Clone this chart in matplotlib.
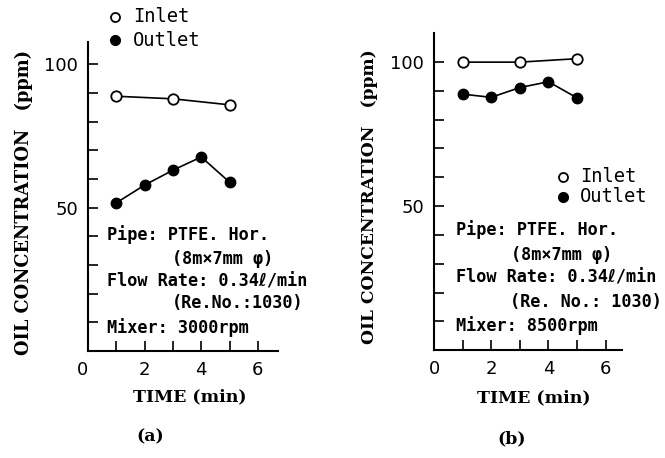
import matplotlib
matplotlib.use("Agg")
import matplotlib.pyplot as plt
from matplotlib.lines import Line2D
from matplotlib.ticker import FixedLocator

# ---- data ----
time_a_inlet = [1, 3, 5]
inlet_a = [88.9, 88.0, 85.9]
time_a_outlet = [1, 2, 3, 4, 5]
outlet_a = [51.7, 57.9, 63.1, 67.7, 58.9]

time_b_inlet = [1, 3, 5]
inlet_b = [99.9, 99.9, 101.1]
time_b_outlet = [1, 2, 3, 4, 5]
outlet_b = [88.8, 87.7, 91.1, 93.1, 87.5]

y_major = [50, 100]
y_minor = [10, 20, 30, 40, 60, 70, 80, 90]
x_major = [0, 2, 4, 6]
x_minor = [1, 3, 5]

legend_labels = ["Inlet", "Outlet"]
notes_a = ["Pipe: PTFE. Hor.", "(8m×7mm φ)", "Flow Rate: 0.34ℓ/min", "(Re.No.:1030)", "Mixer: 3000rpm"]
notes_b = ["Pipe: PTFE. Hor.", "(8m×7mm φ)", "Flow Rate: 0.34ℓ/min", "(Re. No.: 1030)", "Mixer: 8500rpm"]
ylabel_text = "OIL CONCENTRATION   (ppm)"
xlabel_text = "TIME (min)"
captions = ["(a)", "(b)"]

MONO = ["DejaVu Sans Mono", "DejaVu Sans", "Noto Sans CJK JP"]

W, H = 665, 458
fig = plt.figure(figsize=(W / 100, H / 100), dpi=100)
fig.patch.set_facecolor("white")


def fx(x):
    return x / W


def fy(y):
    return 1 - y / H


def make_axes(left, right, top, bottom, xmax, ymax):
    ax = fig.add_axes([fx(left), fy(bottom), fx(right - left), (bottom - top) / H])
    ax.set_xlim(0, xmax)
    ax.set_ylim(0, ymax)
    for s in ["top", "right"]:
        ax.spines[s].set_visible(False)
    for s in ["left", "bottom"]:
        ax.spines[s].set_linewidth(1.5)
    ax.xaxis.set_major_locator(FixedLocator(x_major))
    ax.xaxis.set_minor_locator(FixedLocator(x_minor))
    ax.yaxis.set_major_locator(FixedLocator(y_major))
    ax.yaxis.set_minor_locator(FixedLocator(y_minor))
    ax.tick_params(which="both", direction="in", length=7, width=1.2, labelsize=13)
    ax.tick_params(axis="y", pad=7)
    ax.tick_params(axis="x", pad=7)
    ax.set_facecolor("none")
    return ax


def draw_series(ax, tin, yin, tout, yout):
    ax.plot(tin, yin, color="black", lw=1.2, marker="o", ms=7.5,
            mfc="white", mec="black", mew=1.3, clip_on=False, zorder=3)
    ax.plot(tout, yout, color="black", lw=1.2, marker="o", ms=7.5,
            mfc="black", mec="black", clip_on=False, zorder=3)


def draw_legend(mx, my_in, tx, my_out):
    fig.add_artist(Line2D([fx(mx)], [fy(my_in)], marker="o", ms=6.5, mfc="white",
                          mec="black", mew=1.3, ls="none"))
    fig.add_artist(Line2D([fx(mx)], [fy(my_out)], marker="o", ms=7, mfc="black",
                          mec="black", ls="none"))
    fig.text(fx(tx), fy(my_in), legend_labels[0], family=MONO,
             fontsize=13.5, va="center", ha="left")
    fig.text(fx(tx), fy(my_out), legend_labels[1], family=MONO,
             fontsize=13.5, va="center", ha="left")


def draw_notes(notes, xs, ys):
    for t, x, y in zip(notes, xs, ys):
        fig.text(fx(x), fy(y), t, family=MONO, weight="bold",
                 fontsize=12.2, va="center", ha="left")


# ---- panel (a) ----
ax_a = make_axes(88, 278, 41.5, 351, 6.71, 108)
draw_series(ax_a, time_a_inlet, inlet_a, time_a_outlet, outlet_a)
ax_a.get_xticklabels()[0].set_ha("right")
draw_legend(115, 17, 133, 40)
draw_notes(notes_a, [107, 172, 107, 172, 107], [235, 259, 281, 303, 328])
fig.text(fx(24), fy(202), ylabel_text, rotation=90, family="DejaVu Serif",
         weight="bold", fontsize=12.8, va="center", ha="center")
fig.text(fx(190), fy(397), xlabel_text, family="DejaVu Serif", weight="bold",
         fontsize=12.5, va="center", ha="center")
fig.text(fx(150), fy(437), captions[0], family="DejaVu Serif", weight="bold",
         fontsize=12.5, va="center", ha="center")

# ---- panel (b) ----
ax_b = make_axes(434, 622, 33, 350.3, 6.57, 110)
draw_series(ax_b, time_b_inlet, inlet_b, time_b_outlet, outlet_b)
draw_legend(563, 177, 580, 197)
draw_notes(notes_b, [456, 511, 456, 510, 456], [230, 255, 278, 302, 326])
fig.text(fx(370), fy(197), ylabel_text, rotation=90, family="DejaVu Serif",
         weight="bold", fontsize=12.3, va="center", ha="center")
fig.text(fx(534), fy(398), xlabel_text, family="DejaVu Serif", weight="bold",
         fontsize=12.5, va="center", ha="center")
fig.text(fx(512), fy(439), captions[1], family="DejaVu Serif", weight="bold",
         fontsize=12.5, va="center", ha="center")

fig.savefig("out.png", dpi=100)
